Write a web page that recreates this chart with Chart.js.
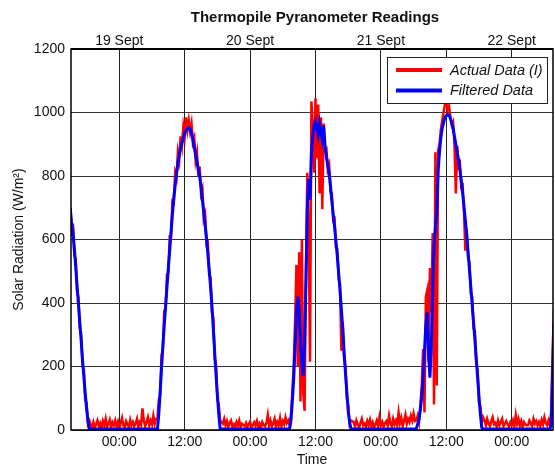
<!DOCTYPE html>
<html><head><meta charset="utf-8">
<script src="https://cdn.jsdelivr.net/npm/chart.js@4/dist/chart.umd.min.js"></script>
<style>html,body{margin:0;padding:0;background:#fff;}canvas{display:block;}</style>
</head><body>
<canvas id="c" width="555" height="466"></canvas>
<script>
// Time base: hours since 18 Sept 00:00, one sample every 15 minutes
const sampleStartHour = 15.0;
const sampleStepHour = 0.25;

// Actual (raw) pyranometer readings, W/m^2 — one row per 2 hours
const actualData = [
  680, 610, 650, 550, 540, 435, 420, 320,
  305, 200, 190, 95, 85, 20, 30, 15,
  10, 25, 8, 18, 30, 12, 22, 5,
  28, 14, 35, 10, 20, 32, 8, 24,
  15, 30, 12, 26, 6, 22, 38, 14,
  10, 28, 18, 8, 32, 15, 25, 12,
  20, 35, 10, 24, 15, 68, 30, 12,
  25, 40, 15, 30, 18, 45, 20, 35,
  35, 95, 110, 235, 255, 375, 380, 490,
  495, 610, 610, 720, 715, 810, 795, 875,
  850, 925, 895, 955, 925, 985, 945, 975,
  940, 965, 905, 920, 850, 875, 800, 830,
  745, 760, 665, 680, 585, 590, 485, 480,
  370, 355, 225, 205, 95, 80, 30, 25,
  20, 35, 15, 28, 10, 22, 30, 12,
  18, 8, 25, 14, 30, 10, 20, 16,
  12, 22, 8, 18, 26, 10, 15, 24,
  14, 28, 10, 20, 8, 25, 16, 12,
  22, 48, 15, 30, 12, 20, 35, 10,
  25, 15, 38, 12, 28, 18, 40, 22,
  30, 15, 45, 120, 200, 340, 520, 200,
  560, 90, 600, 120, 60, 500, 810, 620,
  215, 1035, 960, 810, 1045, 855, 1025, 745,
  985, 695, 965, 880, 885, 820, 835, 750,
  745, 660, 665, 575, 570, 475, 460, 250,
  340, 225, 200, 100, 80, 20, 30, 28,
  25, 12, 30, 18, 8, 22, 35, 15,
  20, 10, 28, 15, 32, 12, 24, 8,
  18, 30, 12, 40, 15, 25, 10, 22,
  28, 15, 45, 20, 12, 35, 18, 30,
  15, 55, 22, 38, 12, 30, 48, 20,
  35, 25, 45, 30, 52, 28, 30, 45,
  25, 80, 140, 255, 55, 420, 440, 215,
  510, 370, 620, 80, 875, 140, 880, 900,
  945, 975, 1000, 1025, 1035, 1010, 1020, 985,
  960, 970, 900, 745, 895, 830, 840, 765,
  770, 685, 565, 635, 540, 530, 430, 420,
  320, 310, 205, 190, 85, 75, 25, 40,
  30, 15, 35, 20, 12, 28, 40, 18,
  22, 10, 30, 15, 25, 35, 12, 20,
  28, 18, 10, 24, 15, 30, 12, 47,
  20, 35, 14, 28, 10, 25, 18, 15,
  15, 30, 22, 12, 35, 20, 28, 15,
  25, 12, 32, 18, 40, 22, 15, 30,
  15, 60, 240, 380
];

// Filtered readings, W/m^2 — same time base
const filteredData = [
  700, 650, 625, 572, 515, 455, 398, 340,
  283, 222, 168, 115, 68, 28, 5, 3,
  3, 3, 3, 3, 3, 3, 3, 3,
  3, 3, 3, 3, 3, 3, 3, 3,
  3, 3, 3, 3, 3, 3, 3, 3,
  3, 3, 3, 3, 3, 3, 3, 3,
  3, 3, 3, 3, 3, 3, 3, 3,
  3, 3, 3, 3, 3, 3, 3, 3,
  3, 50, 120, 195, 265, 330, 390, 450,
  510, 565, 625, 680, 730, 770, 808, 840,
  865, 888, 905, 920, 935, 943, 950, 952,
  948, 935, 915, 892, 868, 845, 822, 798,
  765, 725, 685, 645, 605, 555, 505, 450,
  390, 320, 245, 175, 110, 50, 5, 3,
  3, 3, 3, 3, 3, 3, 3, 3,
  3, 3, 3, 3, 3, 3, 3, 3,
  3, 3, 3, 3, 3, 3, 3, 3,
  3, 3, 3, 3, 3, 3, 3, 3,
  3, 3, 3, 3, 3, 3, 3, 3,
  3, 3, 3, 3, 3, 3, 3, 3,
  3, 3, 30, 90, 160, 260, 370, 420,
  380, 280, 205, 170, 270, 470, 690, 790,
  725, 870, 925, 960, 972, 948, 928, 965,
  940, 915, 958, 895, 860, 835, 810, 770,
  720, 680, 640, 595, 548, 495, 440, 380,
  318, 245, 180, 120, 60, 25, 5, 3,
  3, 3, 3, 3, 3, 3, 3, 3,
  3, 3, 3, 3, 3, 3, 3, 3,
  3, 3, 3, 3, 3, 3, 3, 3,
  3, 3, 3, 3, 3, 3, 3, 3,
  3, 3, 3, 3, 3, 3, 3, 3,
  3, 3, 3, 3, 3, 3, 5, 18,
  35, 65, 105, 165, 250, 330, 370, 240,
  165, 260, 450, 580, 635, 690, 815, 875,
  920, 950, 968, 985, 990, 993, 992, 982,
  968, 950, 925, 900, 875, 850, 820, 785,
  745, 705, 660, 612, 560, 505, 450, 395,
  340, 285, 225, 165, 105, 50, 8, 3,
  3, 3, 3, 3, 3, 3, 3, 3,
  3, 3, 3, 3, 3, 3, 3, 3,
  3, 3, 3, 3, 3, 3, 3, 3,
  3, 3, 3, 3, 3, 3, 3, 3,
  3, 3, 3, 3, 3, 3, 3, 3,
  3, 3, 3, 3, 3, 3, 3, 3,
  3, 15, 170, 330
];

const seriesNames = ['Actual Data (I)', 'Filtered Data'];
const xRangeHours = [15.14, 103.58];
const timeTickHours = [24, 36, 48, 60, 72, 84, 96];
const timeTickLabels = ['00:00', '12:00', '00:00', '12:00', '00:00', '12:00', '00:00'];
const dayTickHours = [24, 48, 72, 96];
const dayTickLabels = ['19 Sept', '20 Sept', '21 Sept', '22 Sept'];
const yTickValues = [0, 200, 400, 600, 800, 1000, 1200];
const yTickLabels = ['0', '200', '400', '600', '800', '1000', '1200'];
const chartTitle = 'Thermopile Pyranometer Readings';
const xTitle = 'Time';
const yTitle = 'Solar Radiation (W/m\u00B2)';

const FONT = "'Liberation Sans', Arial, sans-serif";
const TXT = '#111';

function toPoints(values) {
  return values.map((v, i) => ({ x: sampleStartHour + i * sampleStepHour, y: v }));
}

const overlay = {
  id: 'overlay',
  afterDraw(chart) {
    const { ctx, chartArea: a } = chart;
    ctx.save();
    // frame
    ctx.strokeStyle = '#000';
    ctx.lineWidth = 1.5;
    ctx.strokeRect(a.left, a.top, a.right - a.left, a.bottom - a.top);
    ctx.lineWidth = 2;
    ctx.beginPath(); ctx.moveTo(a.left, a.top); ctx.lineTo(a.right, a.top); ctx.stroke();
    // title
    ctx.fillStyle = TXT;
    ctx.font = 'bold 15px ' + FONT;
    ctx.textAlign = 'center';
    ctx.textBaseline = 'middle';
    ctx.fillText(chartTitle, (a.left + a.right) / 2 + 3, 18);
    // legend
    const bx = a.right - 165.5, by = a.top + 8.5, bw = 160, bh = 46;
    ctx.fillStyle = '#fff';
    ctx.fillRect(bx, by, bw, bh);
    ctx.strokeStyle = '#222';
    ctx.lineWidth = 1;
    ctx.strokeRect(bx, by, bw, bh);
    const rows = [by + 12.5, by + 33];
    chart.data.datasets.forEach((ds, i) => {
      ctx.strokeStyle = ds.borderColor;
      ctx.lineWidth = 4;
      ctx.beginPath(); ctx.moveTo(bx + 8.5, rows[i]); ctx.lineTo(bx + 54.5, rows[i]); ctx.stroke();
      ctx.fillStyle = TXT;
      ctx.font = 'italic 14.5px ' + FONT;
      ctx.textAlign = 'left';
      ctx.textBaseline = 'middle';
      ctx.fillText(ds.label, bx + 62.5, rows[i] + 0.5);
    });
    ctx.restore();
  }
};

new Chart(document.getElementById('c'), {
  type: 'line',
  data: {
    datasets: [
      { label: seriesNames[0], data: toPoints(actualData), borderColor: '#ff0000', borderWidth: 2.5, pointRadius: 0, tension: 0, order: 2, xAxisID: 'x', yAxisID: 'y' },
      { label: seriesNames[1], data: toPoints(filteredData), borderColor: '#0000ff', borderWidth: 3, pointRadius: 0, tension: 0, order: 1, xAxisID: 'x', yAxisID: 'y' }
    ]
  },
  options: {
    responsive: false,
    devicePixelRatio: 1,
    animation: false,
    events: [],
    layout: { padding: { left: 0, right: 2, top: 0, bottom: 0 } },
    plugins: { legend: { display: false }, title: { display: false }, tooltip: { enabled: false } },
    scales: {
      x: {
        type: 'linear', position: 'bottom', min: xRangeHours[0], max: xRangeHours[1],
        afterBuildTicks: s => { s.ticks = timeTickHours.map(v => ({ value: v })); },
        ticks: { autoSkip: false, maxRotation: 0, padding: 4, color: TXT, font: { family: FONT, size: 14 },
          callback: (v, i) => timeTickLabels[i] },
        grid: { color: '#222', lineWidth: 1, drawTicks: false },
        border: { display: false },
        title: { display: true, text: xTitle, color: TXT, font: { family: FONT, size: 14, lineHeight: 1 }, padding: { top: 0, bottom: -1 } },
        afterFit: s => { s.height = 36; }
      },
      xTop: {
        type: 'linear', position: 'top', min: xRangeHours[0], max: xRangeHours[1],
        afterBuildTicks: s => { s.ticks = dayTickHours.map(v => ({ value: v })); },
        ticks: { autoSkip: false, maxRotation: 0, padding: -1, color: TXT, font: { family: FONT, size: 14 },
          callback: (v, i) => dayTickLabels[i] },
        grid: { display: false, drawTicks: false },
        border: { display: false },
        afterFit: s => { s.height = 49; }
      },
      y: {
        min: 0, max: 1200,
        afterBuildTicks: s => { s.ticks = yTickValues.map(v => ({ value: v })); },
        ticks: { padding: 6, color: TXT, font: { family: FONT, size: 14 },
          callback: (v, i) => yTickLabels[i] },
        grid: { color: '#333', lineWidth: 1, drawTicks: false },
        border: { display: false },
        title: { display: true, text: yTitle, color: TXT, font: { family: FONT, size: 14, lineHeight: 1 }, padding: { top: 12, bottom: 0 } },
        afterFit: s => { s.width = 71; }
      }
    }
  },
  plugins: [overlay]
});
</script>
</body></html>
